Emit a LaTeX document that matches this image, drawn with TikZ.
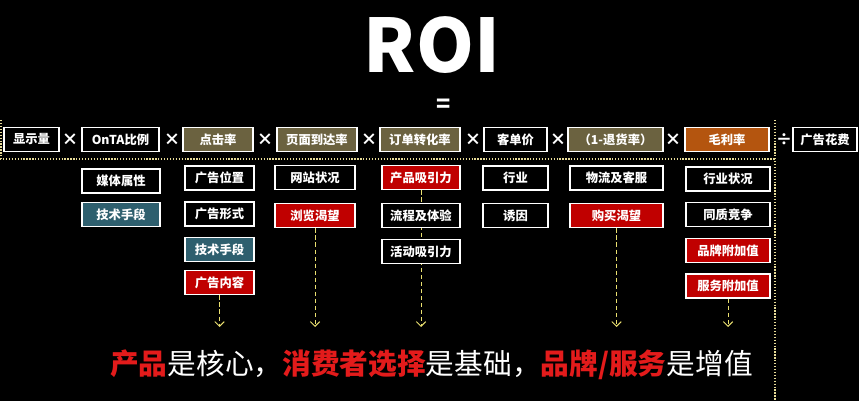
\documentclass[tikz,border=0pt]{standalone}
\usepackage{fontspec}
\setmainfont{Noto Sans CJK SC}
\usetikzlibrary{arrows.meta}
\newlength{\pxl}
\setlength{\pxl}{0.03cm}
\definecolor{olivebox}{HTML}{6B6240}
\definecolor{tealbox}{HTML}{2E5F6E}
\definecolor{redbox}{HTML}{C00000}
\definecolor{orangebox}{HTML}{B4550F}
\definecolor{redtext}{HTML}{E31B1B}
\definecolor{dotcolor}{HTML}{E8DC98}
\definecolor{arrowcolor}{HTML}{EAE070}
\pgfdeclarelayer{bg}
\pgfdeclarelayer{links}
\pgfsetlayers{bg,links,main}
\tikzset{
    factor/.style={draw=white, line width=1.6pt, text=white, inner sep=0pt,
        font=\bfseries\fontsize{10.5}{12}\selectfont, minimum height=24\pxl},
    blackbox/.style={factor, fill=black},
    olivefill/.style={factor, fill=olivebox},
    tealfill/.style={factor, fill=tealbox},
    redfill/.style={factor, fill=redbox},
    orangefill/.style={factor, fill=orangebox},
    opsign/.style={text=white, inner sep=0pt, font=\bfseries\fontsize{14}{14}\selectfont},
    dotline/.style={draw=dotcolor, line width=1.3pt, dash pattern=on 1.1pt off 1.4pt},
    leadarrow/.style={draw=arrowcolor, line width=0.8pt, dash pattern=on 3.5pt off 2.5pt,
        -{Straight Barb[length=4pt,width=8pt]}}
}
% box: style, name, centre x, centre y, width, text
\newcommand{\factorBox}[6]{
    \node[#1, minimum width=#5\pxl] (#2) at (#3,#4) {#6};
}

\begin{document}
\begin{tikzpicture}[x=0.03cm, y=-0.03cm]
    \begin{pgfonlayer}{bg}
        \fill[black] (0,0) rectangle (859,401);
    \end{pgfonlayer}
    \useasboundingbox (0,0) rectangle (859,401);

    \node[text=white, inner sep=0pt, font=\bfseries\fontsize{63}{63}\selectfont] (roi) at (432,45) {ROI};
    \node[text=white, inner sep=0pt, font=\bfseries\fontsize{20}{20}\selectfont] (equals) at (444,106) {=};

    % dotted frame
    \draw[dotline] (0,159) -- (775,159);
    \draw[dotline] (1,120) -- (1,159);
    \draw[dotline] (775,120) -- (775,401);

    % top row
    \factorBox{blackbox}{shows}{31.5}{139.5}{55}{显示量}
    \factorBox{blackbox}{onta}{120.5}{139.5}{77}{OnTA比例}
    \factorBox{olivefill}{ctr}{218}{139.5}{70}{点击率}
    \factorBox{olivefill}{land}{317}{139.5}{80}{页面到达率}
    \factorBox{olivefill}{conv}{420}{139.5}{80}{订单转化率}
    \factorBox{blackbox}{price}{515.5}{139.5}{63}{客单价}
    \factorBox{olivefill}{keep}{615.5}{139.5}{95}{（1-退货率）}
    \factorBox{orangefill}{margin}{727}{139.5}{84}{毛利率}
    \factorBox{blackbox}{spend}{825}{139.5}{64}{广告花费}

    \node[opsign] (t1) at (70,140) {×};
    \node[opsign] (t2) at (172,140) {×};
    \node[opsign] (t3) at (265,140) {×};
    \node[opsign] (t4) at (369,140) {×};
    \node[opsign] (t5) at (473,140) {×};
    \node[opsign] (t6) at (558,140) {×};
    \node[opsign] (t7) at (673,140) {×};
    \node[opsign] (d1) at (784,140) {÷};

    % factors below
    \factorBox{blackbox}{media}{121}{181}{78}{媒体属性}
    \factorBox{tealfill}{techa}{121}{214.5}{78}{技术手段}

    \factorBox{blackbox}{adpos}{219.5}{178}{69}{广告位置}
    \factorBox{blackbox}{adform}{219.5}{214}{69}{广告形式}
    \factorBox{tealfill}{techb}{219.5}{249.5}{69}{技术手段}
    \factorBox{redfill}{adcont}{219.5}{282.5}{69}{广告内容}

    \factorBox{blackbox}{site}{315}{177.5}{80}{网站状况}
    \factorBox{redfill}{browse}{315}{215.5}{80}{浏览渴望}

    \factorBox{redfill}{prodpull}{421}{177.5}{78}{产品吸引力}
    \factorBox{blackbox}{flow}{421}{215.5}{78}{流程及体验}
    \factorBox{blackbox}{promo}{421}{251.5}{78}{活动吸引力}

    \factorBox{blackbox}{trade}{515.5}{178}{65}{行业}
    \factorBox{blackbox}{lure}{515.5}{215.5}{65}{诱因}

    \factorBox{blackbox}{logistics}{616.5}{178}{93}{物流及客服}
    \factorBox{redfill}{buywish}{616.5}{215.5}{93}{购买渴望}

    \factorBox{blackbox}{market}{728}{179}{84}{行业状况}
    \factorBox{blackbox}{rival}{728}{214.5}{84}{同质竞争}
    \factorBox{redfill}{brandval}{728}{250.5}{84}{品牌附加值}
    \factorBox{redfill}{servval}{728}{286}{84}{服务附加值}

    % dashed leads
    \coordinate (leadend) at (0,327);
    \begin{pgfonlayer}{links}
        \draw[leadarrow] (adcont.south) -- (adcont.south |- leadend);
        \draw[leadarrow] (browse.south) -- (browse.south |- leadend);
        \draw[leadarrow] (prodpull.south) -- (prodpull.south |- leadend);
        \draw[leadarrow] (buywish.south) -- (buywish.south |- leadend);
        \draw[leadarrow] (servval.south) -- (servval.south |- leadend);
    \end{pgfonlayer}

    \node[text=white, inner sep=0pt, font=\fontsize{24.5}{26}\selectfont] (motto) at (431.5,365)
        {{\bfseries\color{redtext}产品}是核心，{\bfseries\color{redtext}消费者选择}是基础，{\bfseries\color{redtext}品牌/服务}是增值};
\end{tikzpicture}
\end{document}
